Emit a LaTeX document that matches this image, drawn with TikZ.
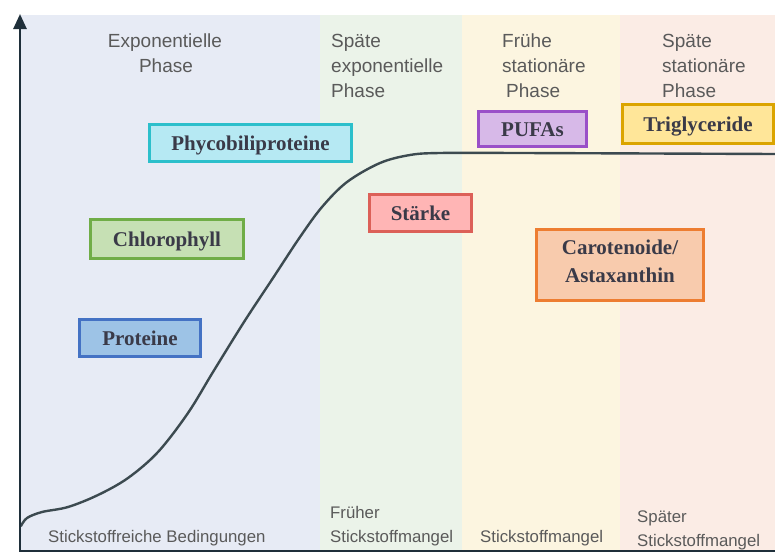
\documentclass[tikz,border=0pt]{standalone}
\usepackage{fontspec}
\setmainfont{Liberation Serif}
\newfontfamily\labfont{Liberation Sans}
\usetikzlibrary{arrows.meta}
\definecolor{bgA}{HTML}{E7EBF5}
\definecolor{bgB}{HTML}{EBF3E9}
\definecolor{bgC}{HTML}{FCF5E0}
\definecolor{bgD}{HTML}{FBECE5}
\definecolor{axiscol}{HTML}{1F2F3A}
\definecolor{curvecol}{HTML}{3C4A50}
\definecolor{phasecol}{HTML}{5A5A5A}
\definecolor{boxtextcol}{HTML}{3A3A48}
\definecolor{phyF}{HTML}{B6E9F3}\definecolor{phyD}{HTML}{2CBFCB}
\definecolor{chlF}{HTML}{C6E0B4}\definecolor{chlD}{HTML}{70AD47}
\definecolor{proF}{HTML}{9DC3E6}\definecolor{proD}{HTML}{4472C4}
\definecolor{staF}{HTML}{FFB5B5}\definecolor{staD}{HTML}{DC6058}
\definecolor{carF}{HTML}{F8CBAD}\definecolor{carD}{HTML}{ED7D31}
\definecolor{pufF}{HTML}{D7B9E8}\definecolor{pufD}{HTML}{9A50C8}
\definecolor{triF}{HTML}{FFE699}\definecolor{triD}{HTML}{DBA400}
\tikzset{
  phasetext/.style={font=\labfont\fontsize{19}{25}\selectfont, text=phasecol, inner sep=0pt},
  condtext/.style={font=\labfont\fontsize{16.8}{24}\selectfont, text=phasecol, inner sep=0pt},
  substbox/.style 2 args={draw=#2, fill=#1, line width=3pt, inner sep=0pt, outer sep=0pt,
     font=\bfseries\fontsize{21}{28}\selectfont, text=boxtextcol, text height=14pt, text depth=0pt},
  boxline/.style={font=\bfseries\fontsize{21}{28}\selectfont, text=boxtextcol, inner sep=0pt},
  axisline/.style={draw=axiscol, line width=2.6pt},
  growth/.style={draw=curvecol, line width=2.4pt, line cap=round}
}
\begin{document}
\begin{tikzpicture}[x=1pt, y=-1pt]
\useasboundingbox (0,0) rectangle (775,554);
% phase backgrounds
\fill[bgA] (20,15) rectangle (320,551);
\fill[bgB] (320,15) rectangle (462,551);
\fill[bgC] (462,15) rectangle (620,551);
\fill[bgD] (620,15) rectangle (775,551);
% growth curve
\draw[growth] plot[smooth, tension=0.55] coordinates {(21,526) (27,518) (42,512) (68,507) (98,495) (128,478) (158,452) (188,413) (213,372) (244,322) (273,278) (300,237) (322,207) (347,182) (380,163) (410,155) (440,153) (520,153) (775,154)};
% axes
\coordinate (xend) at (775,551);
\coordinate (orig) at (20,551);
\coordinate (ytop) at (20,14);
\draw[axisline, -{Triangle[width=13pt,length=15pt]}] (xend) -- (orig) -- (ytop);
% phase labels
\node[phasetext, anchor=base] (p1a) at (165,47) {Exponentielle};
\node[phasetext, anchor=base] (p1b) at (166,72) {Phase};
\node[phasetext, anchor=base west] (p2a) at (331,47) {Späte};
\node[phasetext, anchor=base west] (p2b) at (331,72) {exponentielle};
\node[phasetext, anchor=base west] (p2c) at (331,97) {Phase};
\node[phasetext, anchor=base west] (p3a) at (502,47) {Frühe};
\node[phasetext, anchor=base west] (p3b) at (502,72) {stationäre};
\node[phasetext, anchor=base west] (p3c) at (506,97) {Phase};
\node[phasetext, anchor=base west] (p4a) at (662,47) {Späte};
\node[phasetext, anchor=base west] (p4b) at (662,72) {stationäre};
\node[phasetext, anchor=base west] (p4c) at (662,97) {Phase};
% nitrogen conditions
\node[condtext, anchor=base west] (c1) at (48,542) {Stickstoffreiche Bedingungen};
\node[condtext, anchor=base west] (c2a) at (330,518) {Früher};
\node[condtext, anchor=base west] (c2b) at (330,542) {Stickstoffmangel};
\node[condtext, anchor=base west] (c3) at (480,542) {Stickstoffmangel};
\node[condtext, anchor=base west] (c4a) at (637,522) {Später};
\node[condtext, anchor=base west] (c4b) at (637,546) {Stickstoffmangel};
% substance boxes
\node[substbox={phyF}{phyD}, minimum width=202pt, minimum height=37pt] (phy) at (250.5,143) {Phycobiliproteine};
\node[substbox={chlF}{chlD}, minimum width=153pt, minimum height=39pt] (chl) at (167,239) {Chlorophyll};
\node[substbox={proF}{proD}, minimum width=121pt, minimum height=37pt] (pro) at (140,338) {Proteine};
\node[substbox={staF}{staD}, minimum width=102pt, minimum height=37pt] (sta) at (420.5,213) {Stärke};
\node[substbox={pufF}{pufD}, minimum width=108pt, minimum height=35pt] (puf) at (532.5,129) {PUFAs};
\node[substbox={triF}{triD}, minimum width=151pt, minimum height=39pt] (tri) at (698,124) {Triglyceride};
\node[substbox={carF}{carD}, minimum width=167pt, minimum height=71pt] (car) at (620,265) {};
\node[boxline, anchor=base] (carA) at (620,254) {Carotenoide/};
\node[boxline, anchor=base] (carB) at (620,282) {Astaxanthin};
\end{tikzpicture}
\end{document}
